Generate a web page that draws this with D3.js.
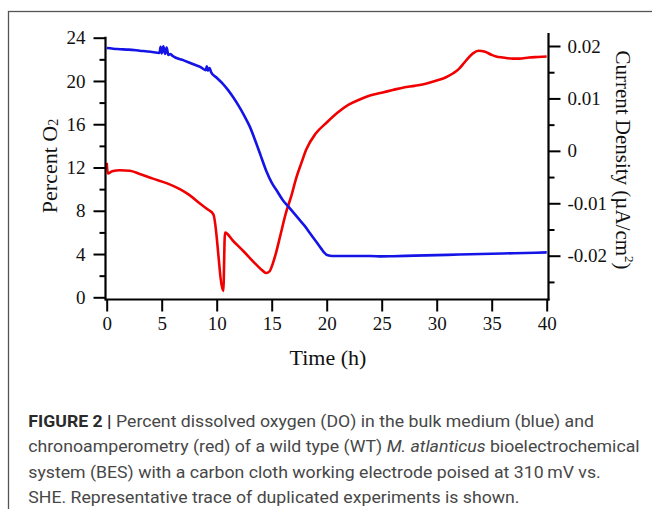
<!DOCTYPE html>
<html><head><meta charset="utf-8">
<script src="https://cdn.jsdelivr.net/npm/d3@7"></script>
<style>html,body{margin:0;padding:0;background:#fff;}svg{display:block;}</style>
</head><body>
<script>
// ---- data ----
const o2Time = [0,1,2,3,4,4.8,4.9,5.0,5.15,5.3,5.45,5.6,5.8,6,7,8,8.5,9.0,9.1,9.2,9.35,9.5,10,10.5,11,11.5,12,12.5,13,13.5,14,14.5,15,15.5,16,16.5,17,17.5,18,18.5,19,19.5,19.8,20.1,20.5,22,24,25,26,28,30,32,34,36,38,40];
const o2Value = [23.05,22.95,22.9,22.8,22.7,22.6,23.15,22.55,23.2,22.5,23.1,22.4,22.5,22.3,21.9,21.5,21.3,21.0,21.35,20.95,21.2,20.8,20.3,19.8,19.2,18.5,17.7,16.8,15.8,14.5,13.1,11.7,10.6,9.8,9.0,8.4,7.8,7.2,6.6,5.9,5.2,4.5,4.1,3.88,3.82,3.82,3.82,3.78,3.8,3.85,3.9,3.95,4.0,4.05,4.1,4.15];
const curTime = [0,0.1,0.5,1.2,2.1,3,4.2,5.5,6.65,7.5,8.5,9.2,9.7,10.6,10.75,11.5,12.5,13.5,14.2,14.5,14.8,15.1,15.4,15.8,16.3,16.8,17.2,17.7,18.15,19,20,21,22,23,24,25,26,27,28,29,30,30.8,31.5,32,32.5,32.9,33.3,33.8,34.4,35,35.4,36,36.9,37.5,38.4,39.2,40];
const curValue = [-0.0023,-0.0043,-0.0039,-0.0037,-0.0038,-0.0044,-0.0053,-0.0062,-0.0073,-0.0084,-0.0101,-0.0112,-0.0121,-0.0267,-0.0156,-0.0172,-0.0193,-0.0215,-0.0229,-0.0233,-0.0230,-0.0215,-0.0194,-0.0160,-0.0118,-0.0085,-0.0054,-0.0023,0.0003,0.0033,0.0054,0.0073,0.0088,0.0098,0.0106,0.0111,0.0116,0.0121,0.0124,0.0128,0.0134,0.0140,0.0148,0.0156,0.0168,0.0178,0.0186,0.0191,0.0189,0.0183,0.0180,0.0178,0.0176,0.0176,0.0178,0.0179,0.0180];
const xTicks = [0,5,10,15,20,25,30,35,40];
const yLeftTicks = [0,4,8,12,16,20,24];
const yLeftMinor = [2,6,10,14,18,22];
const yRightTicks = [0.02,0.01,0,-0.01,-0.02];
const yRightLabels = ["0.02","0.01","0","-0.01","-0.02"];
const yRightMinor = [0.015,0.005,-0.005,-0.015,-0.025];
const captionLines = [
  [{t:"FIGURE 2 | ",b:true},{t:"Percent dissolved oxygen (DO) in the bulk medium (blue) and"}],
  [{t:"chronoamperometry (red) of a wild type (WT) "},{t:"M. atlanticus",i:true},{t:" bioelectrochemical"}],
  [{t:"system (BES) with a carbon cloth working electrode poised at 310\u2009mV vs."}],
  [{t:"SHE. Representative trace of duplicated experiments is shown."}]
];

// ---- layout ----
const W = 652, H = 509;
const svg = d3.select("body").append("svg").attr("width", W).attr("height", H);
svg.append("rect").attr("x",8.5).attr("y",11.5).attr("width",700).attr("height",600)
  .attr("fill","none").attr("stroke","#555").attr("stroke-width",1.3);

const x = d3.scaleLinear().domain([0,40]).range([106.7,546.7]);
const yL = d3.scaleLinear().domain([0,24]).range([297.3,37.7]);
const yR = d3.scaleLinear().domain([-0.02,0.02]).range([255.7,46]);
const serif = "'Liberation Serif','Times New Roman',serif";

// lines
const o2Data = o2Time.map((t,i)=>[t,o2Value[i]]);
const curData = curTime.map((t,i)=>[t,curValue[i]]);
svg.append("path").datum(curData).attr("fill","none").attr("stroke","#f00000").attr("stroke-width",2.6)
  .attr("stroke-linejoin","round")
  .attr("d", d3.line().x(d=>x(d[0])).y(d=>yR(d[1])).curve(d3.curveMonotoneX));
svg.append("path").datum(o2Data).attr("fill","none").attr("stroke","#1414e6").attr("stroke-width",2.6)
  .attr("stroke-linejoin","round")
  .attr("d", d3.line().x(d=>x(d[0])).y(d=>yL(d[1])).curve(d3.curveMonotoneX));

function styleAxis(g){
  g.attr("font-family",serif).attr("font-size",19);
  g.select(".domain").remove();
  g.selectAll("line").attr("stroke","#000").attr("stroke-width",2);
  g.selectAll("text").attr("font-family",serif).attr("font-size",19).attr("fill","#111");
}
// x axis
const gx = svg.append("g").attr("transform","translate(0,299.5)")
  .call(d3.axisBottom(x).tickValues(xTicks).tickSize(12).tickPadding(5).tickFormat(d3.format("d")));
styleAxis(gx);
svg.append("line").attr("x1",105).attr("x2",549.5).attr("y1",299.5).attr("y2",299.5).attr("stroke","#000").attr("stroke-width",2.2);

// left axis
const gl = svg.append("g").attr("transform","translate(105.5,0)")
  .call(d3.axisLeft(yL).tickValues(yLeftTicks).tickSize(12).tickPadding(8).tickFormat(d3.format("d")));
styleAxis(gl);
const glm = svg.append("g").attr("transform","translate(105.5,0)")
  .call(d3.axisLeft(yL).tickValues(yLeftMinor).tickSize(6).tickFormat(""));
styleAxis(glm);
svg.append("line").attr("x1",105.5).attr("x2",105.5).attr("y1",36.7).attr("y2",300.5).attr("stroke","#000").attr("stroke-width",2.2);

// right axis
const gr = svg.append("g").attr("transform","translate(548.5,0)")
  .call(d3.axisRight(yR).tickValues(yRightTicks).tickSize(12).tickPadding(7).tickFormat((d,i)=>yRightLabels[i]));
styleAxis(gr);
const grm = svg.append("g").attr("transform","translate(548.5,0)")
  .call(d3.axisRight(yR).tickValues(yRightMinor).tickSize(6).tickFormat(""));
styleAxis(grm);
svg.append("line").attr("x1",548.5).attr("x2",548.5).attr("y1",33).attr("y2",300.5).attr("stroke","#000").attr("stroke-width",2.2);

// titles
svg.append("text").attr("x",328).attr("y",357).attr("text-anchor","middle").attr("dominant-baseline","central")
  .attr("font-family",serif).attr("font-size",22).attr("fill","#111").text("Time (h)");
const lt = svg.append("text").attr("transform","translate(49,166) rotate(-90)").attr("text-anchor","middle")
  .attr("dominant-baseline","central").attr("font-family",serif).attr("font-size",22).attr("fill","#111");
lt.append("tspan").text("Percent O");
lt.append("tspan").attr("font-size",14).attr("dy",4).text("2");
const rt = svg.append("text").attr("transform","translate(623,160) rotate(90)").attr("text-anchor","middle")
  .attr("dominant-baseline","central").attr("font-family",serif).attr("font-size",21).attr("fill","#111");
rt.append("tspan").text("Current Density (\u00b5A/cm");
rt.append("tspan").attr("font-size",13).attr("dy",-7).text("2");
rt.append("tspan").attr("dy",7).text(")");

// caption
const capX = 28.3;
const capLine2End = 640;
const capBase = [427, 452.5, 478, 503.5];
const capG = svg.append("g");
const capTexts = captionLines.map((parts,i)=>{
  const t = capG.append("text").attr("x",0).attr("y",capBase[i])
    .attr("font-family","Roboto,'Liberation Sans',Arial,sans-serif")
    .attr("font-size",16).attr("fill","#474747");
  parts.forEach(p=>{
    const s = t.append("tspan").text(p.t);
    if(p.b) s.attr("font-weight","bold").attr("fill","#2a2a2a");
    if(p.i) s.attr("font-style","italic");
  });
  return t;
});
const sx = (capLine2End-capX)/capTexts[1].node().getComputedTextLength();
capG.attr("transform",`translate(${capX},0) scale(${sx},1)`);
</script>
</body></html>
